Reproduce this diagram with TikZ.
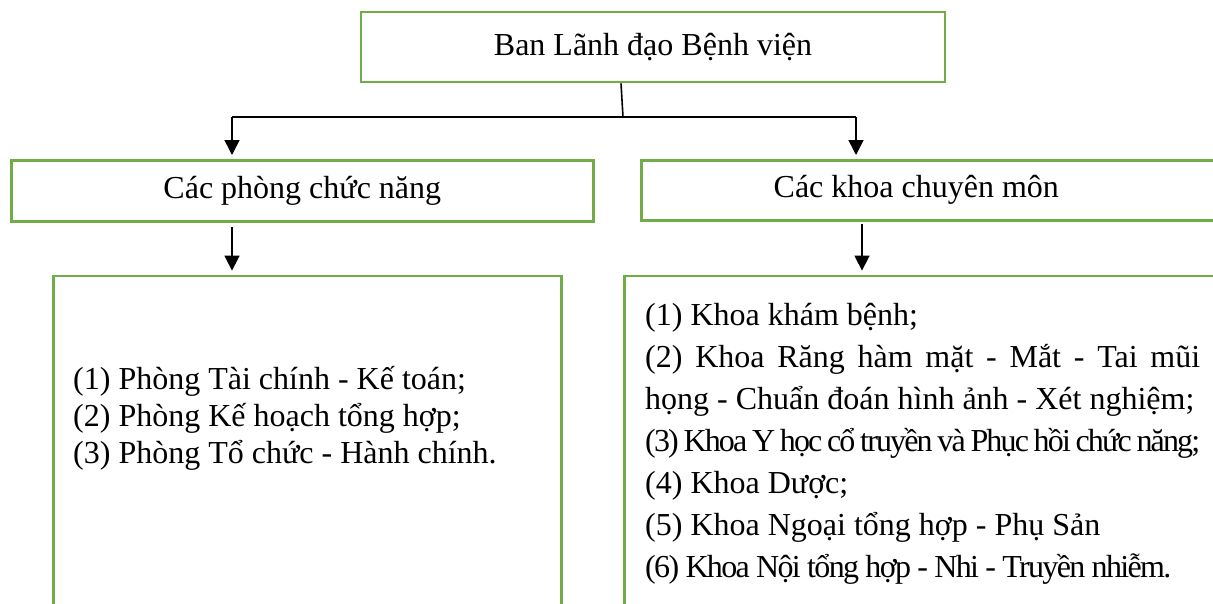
\documentclass[tikz,border=0pt]{standalone}
\usepackage{fontspec}
\setmainfont{Liberation Serif}
\usetikzlibrary{arrows.meta,positioning}
\definecolor{boxgreen}{RGB}{112,173,71}

\begin{document}
\begin{tikzpicture}[x=1pt,y=-1pt,>={Triangle[width=15pt,length=15pt]},
        every node/.style={font=\fontsize{32}{37}\selectfont},
        box node/.style={rectangle,draw=boxgreen,line width=2.6pt,inner sep=0pt},
        item node/.style={inner sep=0pt,anchor=base west},
        link/.style={black,line width=1.6pt}]

        \useasboundingbox (0,0) rectangle (1213,603);

        % Define boxes
        \node[box node,minimum width=584pt,minimum height=70pt] (ban) at (653,47) {Ban Lãnh đạo Bệnh viện};
        \node[box node,minimum width=582pt,minimum height=61pt,anchor=north west] (phong) at (10,159) {Các phòng chức năng};
        \node[box node,minimum width=600pt,minimum height=60pt,anchor=north west] (khoa) at (640,159) {};
        \node (khoatext) [xshift=-25pt] at (khoa.center) {Các khoa chuyên môn};
        \node[box node,minimum width=508pt,minimum height=400pt] (phonglist) [below=52pt of phong.south west,anchor=north west,xshift=42pt] {};
        \node[box node,minimum width=620pt,minimum height=400pt] (khoalist) [below=53pt of khoa.south west,anchor=north west,xshift=-17pt] {};

        % Define lists (base = last line here)
        \node[item node,align=left,font=\fontsize{32}{37}\selectfont] (phongitems)
            at ([xshift=21pt,yshift=-189pt]phonglist.north west)
            {(1) Phòng Tài chính - Kế toán;\\
             (2) Phòng Kế hoạch tổng hợp;\\
             (3) Phòng Tổ chức - Hành chính.};
        \node[item node,text width=555pt,align=justify,font=\fontsize{32}{42}\selectfont] (khoaitems)
            at ([xshift=22pt,yshift=-51pt]khoalist.north west)
            {\hyphenpenalty=10000 (1) Khoa khám bệnh;\\
             (2) Khoa Răng hàm mặt - Mắt - Tai mũi họng - Chuẩn đoán hình ảnh - Xét nghiệm;\\
             {\addfontfeature{LetterSpace=-5.8}(3) Khoa Y học cổ truyền và Phục hồi chức năng;}\\
             (4) Khoa Dược;\\
             (5) Khoa Ngoại tổng hợp - Phụ Sản\\
             {\addfontfeature{LetterSpace=-5.2}(6) Khoa Nội tổng hợp - Nhi - Truyền nhiễm.}};

        % Draw edges
        \coordinate (fork) at (623,117);
        \coordinate (forkl) at (232,117);
        \coordinate (forkr) at (856,117);
        \coordinate (dropr) at (862,117);
        \draw[link] ([xshift=-32pt]ban.south) -- (fork);
        \draw[link] (forkl) -- (forkr);
        \draw[link,->,shorten >=4pt] (forkl) -- (forkl |- phong.north);
        \draw[link,->,shorten >=4pt] (forkr) -- (forkr |- khoa.north);
        \draw[link,->,shorten <=4pt,shorten >=4pt] (forkl |- phong.south) -- (forkl |- phonglist.north);
        \draw[link,->,shorten <=2pt,shorten >=4pt] (dropr |- khoa.south) -- (dropr |- khoalist.north);

\end{tikzpicture}
\end{document}
